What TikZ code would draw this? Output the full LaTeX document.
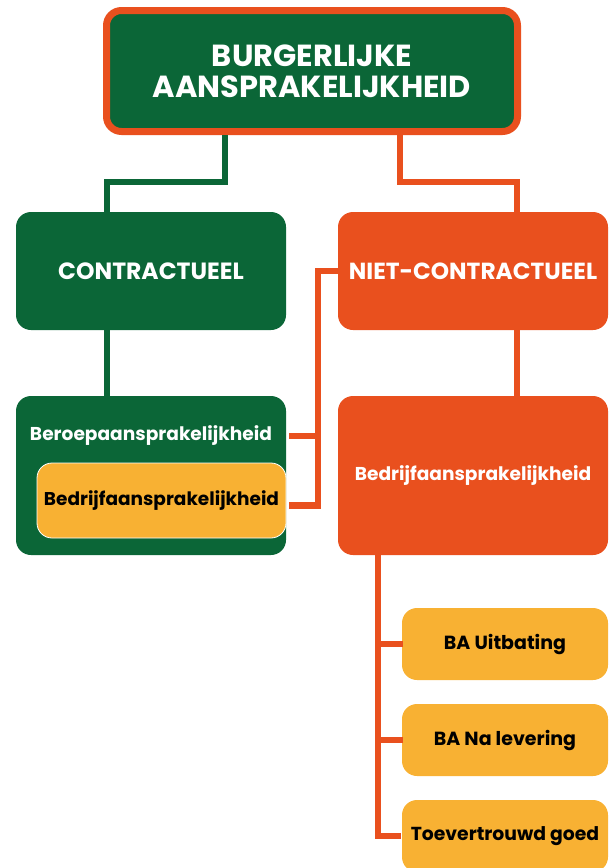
\documentclass[tikz,border=0pt]{standalone}
\usepackage{fontspec}
\setmainfont{Poppins}
\definecolor{dgreen}{HTML}{0B6637}
\definecolor{orng}{HTML}{E9501E}
\definecolor{yel}{HTML}{F8B133}
\begin{document}
\begin{tikzpicture}[x=1pt,y=-1pt,
  box/.style={rectangle, rounded corners=15pt, inner sep=0pt, align=center, font=\bfseries},
  gbox/.style={box, fill=dgreen, text=white},
  obox/.style={box, fill=orng, text=white},
  ybox/.style={box, fill=yel, text=black},
  gline/.style={draw=dgreen, line width=6.5pt},
  oline/.style={draw=orng, line width=6.5pt},
  lbl/.style={inner sep=0pt, font=\bfseries}]
\useasboundingbox (0,0) rectangle (616,868);
% top
\node[gbox, draw=orng, line width=7pt, minimum width=411pt, minimum height=121pt,
  font=\bfseries\fontsize{30.5}{31}\selectfont] (top) at (312,71) {BURGERLIJKE\\AANSPRAKELIJKHEID};
% level 2
\node[gbox, minimum width=270pt, minimum height=118pt, font=\bfseries\fontsize{23.5}{26}\selectfont] (contr) at (151,271) {CONTRACTUEEL};
\node[obox, minimum width=270pt, minimum height=118pt, font=\bfseries\fontsize{23.3}{26}\selectfont] (niet) at (473,271) {NIET-CONTRACTUEEL};
% level 3
\node[gbox, minimum width=270pt, minimum height=159pt] (beroep) at (151,475.5) {};
\node[lbl, text=white, font=\bfseries\fontsize{18.6}{21}\selectfont] (beroeptxt) at (151,436) {Beroepaansprakelijkheid};
\node[ybox, draw=white, line width=0.8pt, minimum width=249pt, minimum height=75pt, font=\bfseries\fontsize{18.5}{21}\selectfont] (bedrl) at (161.5,500.5) {Bedrijfaansprakelijkheid};
\node[obox, minimum width=270pt, minimum height=159pt, font=\bfseries\fontsize{18.6}{21}\selectfont] (bedrr) at (473,475.5) {Bedrijfaansprakelijkheid};
% level 4
\node[ybox, minimum width=206pt, minimum height=72pt, font=\bfseries\fontsize{19}{22}\selectfont] (ba1) at (505,644) {BA Uitbating};
\node[ybox, minimum width=206pt, minimum height=72pt, font=\bfseries\fontsize{19}{22}\selectfont] (ba2) at (505,740) {BA Na levering};
\node[ybox, minimum width=206pt, minimum height=72pt, font=\bfseries\fontsize{18.8}{22}\selectfont] (ba3) at (505,836) {Toevertrouwd goed};
% connectors
\draw[gline] ([xshift=-87pt]top.south) -- ++(0,47) -| ([xshift=-44pt]contr.north);
\draw[oline] ([xshift=88pt]top.south) -- ++(0,47) -| ([xshift=44pt]niet.north);
\draw[gline] ([xshift=-44pt]contr.south) -- ([xshift=-44pt]beroep.north);
\draw[oline] ([xshift=44pt]niet.south) -- ([xshift=44pt]bedrr.north);
\coordinate (bx) at (318,0);
\draw[oline] (niet.west) -- (niet.west -| bx) |- ([xshift=3pt]bedrl.east |- bedrl.text);
\draw[oline] ([xshift=3pt]bedrl.east |- beroeptxt) -- (beroeptxt -| bx);
\coordinate (rx) at (378,0);
\draw[oline] (bedrr.south -| rx) |- ([xshift=-1pt]ba3.west);
\draw[oline] (ba1.west -| rx) -- ([xshift=1pt]ba1.west);
\draw[oline] (ba2.west -| rx) -- ([xshift=1pt]ba2.west);
\end{tikzpicture}
\end{document}
